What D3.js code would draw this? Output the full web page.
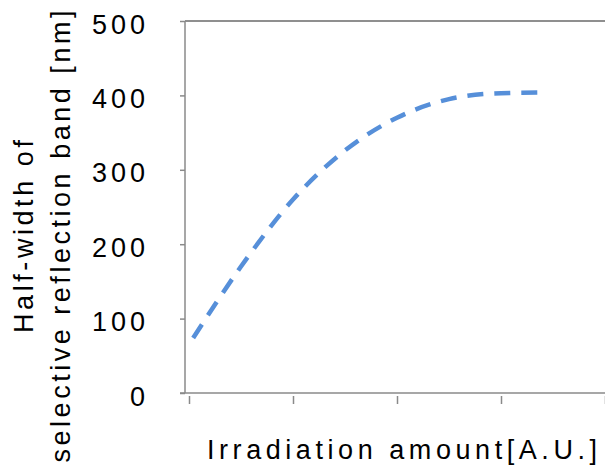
<!DOCTYPE html>
<html>
<head>
<meta charset="utf-8">
<script src="https://cdn.jsdelivr.net/npm/d3@7"></script>
<style>
  html, body { margin: 0; padding: 0; background: #fff; }
  svg { display: block; }
  text { font-family: "Liberation Sans", Arial, sans-serif; fill: #000; }
</style>
</head>
<body>
<svg id="chart" width="605" height="466"></svg>
<script>
// Data
const irradiation = [0.04, 0.5, 1.0, 1.5, 2.0, 2.5, 3.0, 3.44];
const halfWidth   = [74, 170, 260, 326, 370, 395, 403, 404];
const yTicks = [0, 100, 200, 300, 400, 500];
const xTicks = [0, 1, 2, 3, 4];
const yLabelLines = ["Half-width of", "selective reflection band [nm]"];
const xLabel = "Irradiation amount[A.U.]";

const svg = d3.select("#chart");
const W = 605, H = 466;

const x = d3.scaleLinear().domain([0, 4]).range([189, 605]);
const y = d3.scaleLinear().domain([0, 500]).range([393, 21]);
const axisX0 = 185;

const axisColor = "#8a8a8a";

// top border of plot area
svg.append("line")
  .attr("x1", axisX0).attr("x2", W)
  .attr("y1", y(500)).attr("y2", y(500))
  .attr("stroke", "#6a6a6a").attr("stroke-width", 1.6);

// y axis
const yAxis = svg.append("g").attr("transform", `translate(${axisX0},0)`)
  .call(d3.axisLeft(y).tickValues(yTicks).tickSize(5).tickFormat(""));
yAxis.select(".domain").attr("stroke", axisColor).attr("stroke-width", 1.5)
  .attr("d", `M0,${y(500)}V${y(0)}`);
yAxis.selectAll(".tick line").attr("stroke", axisColor).attr("stroke-width", 1.5);

// y tick labels
svg.append("g").selectAll("text").data(yTicks).join("text")
  .attr("x", 145)
  .attr("y", d => y(d) + 12.5)
  .attr("text-anchor", "end")
  .attr("font-size", 27)
  .each(function(d) {
    const s = String(d);
    d3.select(this).text(s);
    if (s.length > 1) d3.select(this).attr("textLength", 53).attr("lengthAdjust", "spacing");
  });

// x axis
const xAxis = svg.append("g").attr("transform", `translate(0,${y(0)})`)
  .call(d3.axisBottom(x).tickValues(xTicks).tickSize(11).tickFormat(""));
xAxis.select(".domain").attr("stroke", axisColor).attr("stroke-width", 1.5)
  .attr("d", `M${axisX0 - 5},0H${W}`);
xAxis.selectAll(".tick line").attr("stroke", axisColor).attr("stroke-width", 1.5)
  .attr("y1", 3);

// data line
const line = d3.line()
  .x((d, i) => x(irradiation[i]))
  .y(d => y(d))
  .curve(d3.curveMonotoneX);

svg.append("path")
  .datum(halfWidth)
  .attr("d", line)
  .attr("fill", "none")
  .attr("stroke", "#568fd9")
  .attr("stroke-width", 4.5)
  .attr("stroke-dasharray", "16,11");

// y axis title (two lines, rotated)
const yLab = [
  { t: yLabelLines[0], x: 33, y: 236.5, len: 193 },
  { t: yLabelLines[1], x: 70, y: 236.5, len: 452 }
];
svg.append("g").selectAll("text").data(yLab).join("text")
  .attr("transform", d => `translate(${d.x},${d.y}) rotate(-90)`)
  .attr("text-anchor", "middle")
  .attr("font-size", 27)
  .attr("textLength", d => d.len)
  .attr("lengthAdjust", "spacing")
  .text(d => d.t);

// x axis title
svg.append("text")
  .attr("x", 402).attr("y", 459)
  .attr("text-anchor", "middle")
  .attr("font-size", 27)
  .attr("textLength", 390)
  .attr("lengthAdjust", "spacing")
  .text(xLabel);
</script>
</body>
</html>
